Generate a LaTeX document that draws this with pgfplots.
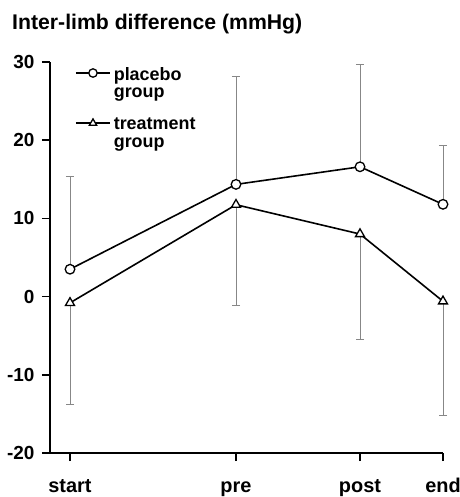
\documentclass[border=0pt]{standalone}
\usepackage{fontspec}
\setmainfont{Liberation Sans}
\usepackage{pgfplots}
\pgfplotsset{compat=1.18}
\definecolor{errgray}{RGB}{135,135,135}
\begin{document}
\begin{tikzpicture}
\begin{axis}[
  scale only axis, width=393bp, height=391bp,
  xmin=50, xmax=443, ymin=-20, ymax=30,
  axis lines=left, axis line style={-, line width=1.8bp},
  clip=false,
  xtick={70,236,360,443}, xticklabels={start,pre,post,end},
  ytick={-20,-10,0,10,20,30}, yticklabels={-20,-10,0,10,20,30},
  tick align=outside, major tick length=8bp,
  tick style={black, line width=1.5bp},
  x tick label style={font=\bfseries\fontsize{20}{20}\selectfont, text height=14bp, text depth=3bp, yshift=-14bp},
  y tick label style={font=\bfseries\fontsize{19}{19}\selectfont, xshift=-4bp},
  legend cell align=left,
  legend image code/.code={\draw[mark repeat=2,mark phase=2,#1,mark size=4.2bp,yshift=1.5bp] plot coordinates {(0bp,0bp) (17bp,0bp) (34bp,0bp)};},
  legend style={at={(rel axis cs:0.0636,0.987)}, anchor=north west, draw=none, fill=none,
    inner sep=0pt, row sep=36bp, column sep=3bp,
    nodes={inner sep=0pt, font=\bfseries\fontsize{18}{17.5}\selectfont}},
]
\addplot[black, line width=1.6bp, mark=*, mark size=4.8bp,
  mark options={fill=white, draw=black, line width=1.3bp},
  error bars/.cd, y dir=plus, y explicit, error mark=|,
  error bar style={errgray, line width=1bp},
  error mark options={errgray, line width=1bp, mark size=4bp}]
  coordinates {(70,3.5) +- (0,11.9) (236,14.35) +- (0,13.85) (360,16.6) +- (0,13.1) (443,11.8) +- (0,7.5)};
\addlegendentry{\begin{tabular}[t]{@{}l@{}}placebo\\group\end{tabular}}
\addplot[black, line width=1.6bp, mark=triangle*, mark size=5.2bp,
  mark options={fill=white, draw=black, line width=1.3bp},
  error bars/.cd, y dir=minus, y explicit, error mark=|,
  error bar style={errgray, line width=1bp},
  error mark options={errgray, line width=1bp, mark size=4bp}]
  coordinates {(70,-0.8) +- (0,13.0) (236,11.75) +- (0,12.9) (360,8.0) +- (0,13.45) (443,-0.6) +- (0,14.6)};
\addlegendentry{\begin{tabular}[t]{@{}l@{}}treatment\\group\end{tabular}}
\end{axis}
\node[anchor=base west, inner sep=0pt, font=\bfseries\fontsize{21.3}{21.3}\selectfont]
  at ([xshift=-38bp,yshift=32bp]current axis.north west) {Inter-limb difference (mmHg)};
\pgfresetboundingbox
\path ([xshift=-50bp,yshift=-44bp]current axis.south west) rectangle ([xshift=17bp,yshift=62bp]current axis.north east);
\end{tikzpicture}
\end{document}
